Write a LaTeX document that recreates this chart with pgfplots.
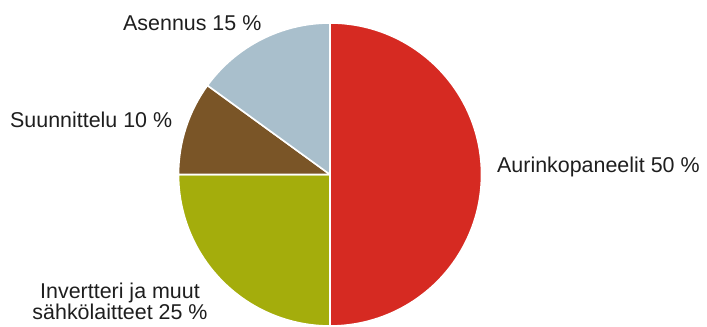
\documentclass[border=0pt]{standalone}
\usepackage{pgfplots}
\pgfplotsset{compat=1.18}
\usepackage{fontspec}
\setmainfont{Liberation Sans}
\definecolor{cRed}{HTML}{D62A22}
\definecolor{cOlive}{HTML}{A4AD0C}
\definecolor{cBrown}{HTML}{7A5527}
\definecolor{cGray}{HTML}{A9BFCC}
\definecolor{txt}{HTML}{1E1E1E}
\begin{document}
\begin{tikzpicture}
\begin{axis}[width=707bp,height=327bp,scale only axis,
  xmin=0,xmax=707,ymin=0,ymax=327,hide axis,clip=false]
\pgfplotsextra{
  \gdef\cum{0}
  \foreach \v/\col in {50/cRed,25/cOlive,10/cBrown,15/cGray}{
    \pgfmathsetmacro{\sa}{90-3.6*\cum}
    \pgfmathsetmacro{\ea}{\sa-3.6*\v}
    \fill[\col,draw=white,line width=1.6bp,line join=round]
      (axis cs:330,152.5) -- ([shift={(\sa:151.5bp)}]axis cs:330,152.5)
      arc[start angle=\sa,end angle=\ea,radius=151.5bp] -- cycle;
    \pgfmathsetmacro{\nc}{\cum+\v}\global\let\cum\nc
  }
}
\path (axis cs:0,0) rectangle (axis cs:707,327);
\tikzset{lbl/.style={font=\fontsize{21.5}{24}\selectfont,text=txt,inner sep=0pt}}
\node[lbl,anchor=base west] at (axis cs:123,296) {Asennus 15 \%};
\node[lbl,anchor=base west] at (axis cs:10,199) {Suunnittelu 10 \%};
\node[lbl,anchor=base west] at (axis cs:497,154) {Aurinkopaneelit 50 \%};
\node[lbl,anchor=base] at (axis cs:120,29) {Invertteri ja muut};
\node[lbl,anchor=base] at (axis cs:120,8) {sähkölaitteet 25 \%};
\end{axis}
\end{tikzpicture}
\end{document}
